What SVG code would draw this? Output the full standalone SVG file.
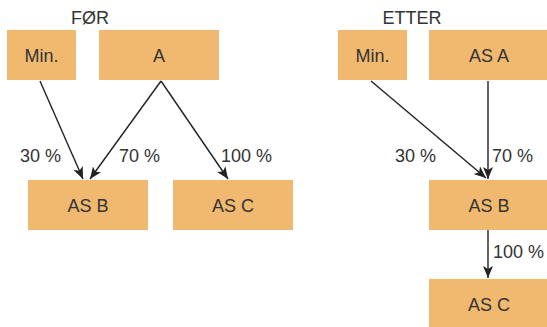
<svg xmlns="http://www.w3.org/2000/svg" width="547" height="327" viewBox="0 0 547 327">
<defs>
<style>
.box{fill:#F0B96F}
.t{font-family:"Liberation Sans",Arial,sans-serif;font-size:18px;fill:#333;text-anchor:middle}
.l{font-family:"Liberation Sans",Arial,sans-serif;font-size:18px;fill:#333}
.c{stroke:#222;stroke-width:1.4;fill:none;marker-end:url(#ah)}
</style>
<marker id="ah" viewBox="0 0 12 10" refX="12" refY="5" markerWidth="12" markerHeight="10" markerUnits="userSpaceOnUse" orient="auto">
<path d="M0,0 L12,5 L0,10 L3,5 Z" fill="#222"/>
</marker>
</defs>
<text class="t" x="90" y="24">FØR</text>
<text class="t" x="412" y="24">ETTER</text>
<g id="n1"><rect class="box" x="7" y="30" width="69" height="50"/><text class="t" x="41.5" y="62">Min.</text></g>
<g id="n2"><rect class="box" x="99" y="30" width="120" height="50"/><text class="t" x="159" y="62">A</text></g>
<g id="n3"><rect class="box" x="28" y="180" width="120" height="50"/><text class="t" x="88" y="212">AS B</text></g>
<g id="n4"><rect class="box" x="173" y="180" width="120" height="50"/><text class="t" x="233" y="212">AS C</text></g>
<g id="n5"><rect class="box" x="338" y="30" width="69" height="50"/><text class="t" x="372.5" y="62">Min.</text></g>
<g id="n6"><rect class="box" x="429" y="30" width="120" height="50"/><text class="t" x="489" y="62">AS A</text></g>
<g id="n7"><rect class="box" x="429" y="180" width="120" height="50"/><text class="t" x="489" y="212">AS B</text></g>
<g id="n8"><rect class="box" x="429" y="279" width="120" height="50"/><text class="t" x="489" y="311">AS C</text></g>
<g id="connectors">
<path class="c" d="M40,81 L83,179"/>
<path class="c" d="M161,81 L90,179"/>
<path class="c" d="M161,81 L228,179"/>
<path class="c" d="M371,81 L486,178"/>
<path class="c" d="M488,81 L488,179"/>
<path class="c" d="M488,230 L488,278"/>
</g>
<text class="l" x="20" y="162">30 %</text>
<text class="l" x="119" y="162">70 %</text>
<text class="l" x="221" y="162">100 %</text>
<text class="l" x="395" y="162">30 %</text>
<text class="l" x="492" y="162">70 %</text>
<text class="l" x="493" y="258">100 %</text>
</svg>
